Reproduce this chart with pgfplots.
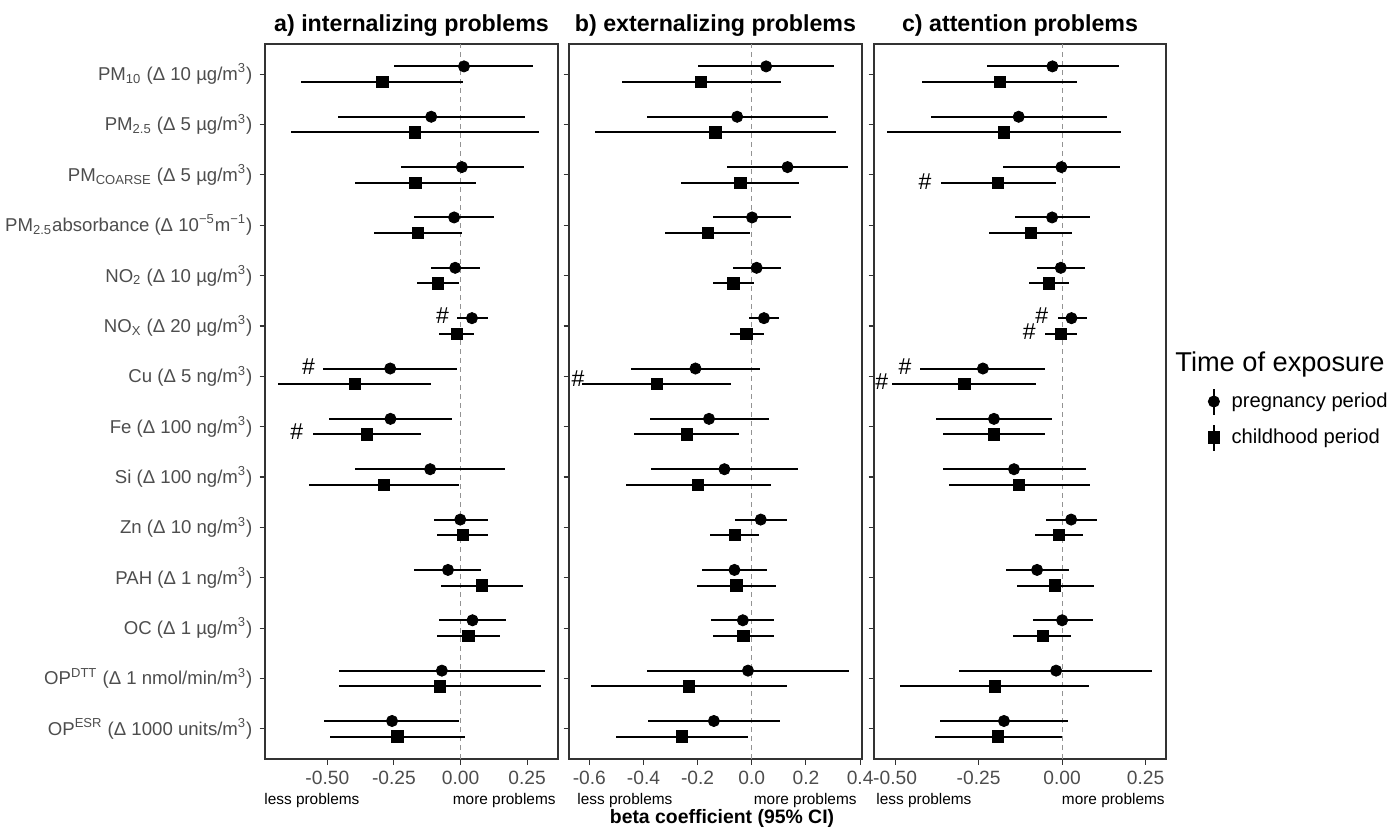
\documentclass[border=0pt]{standalone}
\usepackage{fontspec}
\setmainfont{Liberation Sans}
\usepackage{pgfplots}
\pgfplotsset{compat=1.18}
\usepackage{pgfplotstable}

\definecolor{axtext}{HTML}{4D4D4D}
\definecolor{axline}{HTML}{333333}

% cat  pregnancy(b lo hi)  childhood(b lo hi)
\pgfplotstableread{
cat pb plo phi cb clo chi
14 0.013 -0.248 0.274 -0.293 -0.600 0.011
13 -0.110 -0.459 0.241 -0.171 -0.635 0.293
12 0.005 -0.223 0.237 -0.170 -0.397 0.059
11 -0.024 -0.173 0.126 -0.160 -0.324 0.005
10 -0.020 -0.111 0.074 -0.085 -0.164 -0.005
9 0.043 -0.014 0.103 -0.014 -0.079 0.052
8 -0.264 -0.515 -0.014 -0.397 -0.684 -0.111
7 -0.263 -0.492 -0.032 -0.352 -0.555 -0.147
6 -0.114 -0.395 0.168 -0.287 -0.568 -0.005
5 -0.001 -0.101 0.102 0.008 -0.088 0.103
4 -0.047 -0.173 0.078 0.080 -0.073 0.234
3 0.045 -0.079 0.169 0.030 -0.088 0.148
2 -0.070 -0.457 0.317 -0.077 -0.456 0.302
1 -0.257 -0.511 -0.005 -0.237 -0.491 0.016
}\tabA
\pgfplotstableread{
cat pb plo phi cb clo chi
14 0.053 -0.197 0.305 -0.189 -0.481 0.107
13 -0.054 -0.388 0.282 -0.134 -0.579 0.312
12 0.132 -0.090 0.357 -0.042 -0.261 0.176
11 0.001 -0.142 0.144 -0.163 -0.321 -0.005
10 0.018 -0.070 0.108 -0.068 -0.144 0.007
9 0.045 -0.010 0.102 -0.020 -0.081 0.044
8 -0.208 -0.447 0.032 -0.351 -0.626 -0.078
7 -0.158 -0.376 0.064 -0.240 -0.434 -0.046
6 -0.101 -0.372 0.169 -0.199 -0.466 0.070
5 0.033 -0.063 0.130 -0.062 -0.153 0.028
4 -0.064 -0.185 0.055 -0.057 -0.203 0.090
3 -0.033 -0.152 0.082 -0.031 -0.144 0.081
2 -0.014 -0.386 0.360 -0.232 -0.594 0.130
1 -0.140 -0.385 0.103 -0.259 -0.502 -0.014
}\tabB
\pgfplotstableread{
cat pb plo phi cb clo chi
14 -0.029 -0.226 0.170 -0.187 -0.418 0.044
13 -0.130 -0.393 0.133 -0.175 -0.525 0.175
12 -0.002 -0.176 0.173 -0.192 -0.363 -0.019
11 -0.030 -0.142 0.084 -0.094 -0.219 0.030
10 -0.004 -0.074 0.067 -0.039 -0.098 0.021
9 0.028 -0.013 0.073 -0.004 -0.051 0.046
8 -0.237 -0.425 -0.050 -0.293 -0.508 -0.079
7 -0.204 -0.376 -0.030 -0.204 -0.358 -0.052
6 -0.144 -0.356 0.071 -0.129 -0.340 0.083
5 0.027 -0.048 0.104 -0.010 -0.081 0.062
4 -0.075 -0.168 0.021 -0.021 -0.135 0.096
3 0.000 -0.087 0.093 -0.057 -0.147 0.027
2 -0.018 -0.308 0.269 -0.201 -0.485 0.081
1 -0.174 -0.365 0.018 -0.192 -0.380 0.000
}\tabC

\pgfplotsset{
  forest/.style={
    scale only axis, height=357.5pt,
    ymin=0.4, ymax=14.6, ytick={1,...,14},
    clip=false,
    axis line style={draw=axline, line width=0.55pt},
    tick align=outside, xtick pos=bottom, ytick pos=left,
    major tick length=2.75pt,
    tick style={draw=axline, line width=0.55pt},
    xticklabel style={font=\fontsize{9.6}{11}\selectfont, text=axtext},
    yticklabel style={font=\fontsize{9.3}{11}\selectfont, text=axtext},
    title style={at={(0.5,1)}, anchor=base, yshift=0pt, font=\bfseries\fontsize{11.6}{13}\selectfont},
    anchor=south west,
  },
  zeroline/.style={forget plot, draw=gray!85, line width=0.5pt, dash pattern=on 2.5pt off 2pt},
  preg/.style={only marks, mark=*, mark size=2.8pt, black,
    error bars/.cd, x dir=both, x explicit, error mark=none, error bar style={line width=1pt, black}},
  child/.style={only marks, mark=square*, mark size=2.85pt, black,
    error bars/.cd, x dir=both, x explicit, error mark=none, error bar style={line width=1pt, black}},
}

\newcommand{\hashnode}[2]{\node[font=\fontsize{11.5}{12}\selectfont] at (axis cs:#1,#2) {\#};}
% #1 = left shift, #2 = right shift
\newcommand{\lessmore}[2]{%
  \node[anchor=base west, inner sep=0pt, font=\fontsize{7.7}{9}\selectfont] at (axis description cs:0,0) [xshift=#1, yshift=-22.8pt] {less problems};
  \node[anchor=base east, inner sep=0pt, font=\fontsize{7.7}{9}\selectfont] at (axis description cs:1,0) [xshift=#2, yshift=-22.8pt] {more problems};
}

\begin{document}
\begin{tikzpicture}
\useasboundingbox (0,0) rectangle (695pt,414.5pt);

% ---------- a) internalizing
\begin{axis}[forest, at={(132.5pt,35pt)}, width=146.5pt,
  xmin=-0.734, xmax=0.366,
  xtick={-0.5,-0.25,0,0.25}, xticklabels={-0.50,-0.25,0.00,0.25},
  yticklabels={{OP\textsuperscript{ESR} (Δ 1000 units/m\textsuperscript{3})},
    {OP\textsuperscript{DTT} (Δ 1 nmol/min/m\textsuperscript{3})},
    {OC (Δ 1 µg/m\textsuperscript{3})},
    {PAH (Δ 1 ng/m\textsuperscript{3})},
    {Zn (Δ 10 ng/m\textsuperscript{3})},
    {Si (Δ 100 ng/m\textsuperscript{3})},
    {Fe (Δ 100 ng/m\textsuperscript{3})},
    {Cu (Δ 5 ng/m\textsuperscript{3})},
    {NO\textsubscript{X} (Δ 20 µg/m\textsuperscript{3})},
    {NO\textsubscript{2} (Δ 10 µg/m\textsuperscript{3})},
    {PM\textsubscript{2.5}absorbance (Δ 10\textsuperscript{−5}m\textsuperscript{−1})},
    {PM\textsubscript{COARSE} (Δ 5 µg/m\textsuperscript{3})},
    {PM\textsubscript{2.5} (Δ 5 µg/m\textsuperscript{3})},
    {PM\textsubscript{10} (Δ 10 µg/m\textsuperscript{3})}},
  title={a) internalizing problems}]
\addplot[zeroline] coordinates {(0,0.4) (0,14.6)};
\addplot[preg] table[x=pb, y expr=\thisrow{cat}+0.155, x error plus expr=\thisrow{phi}-\thisrow{pb}, x error minus expr=\thisrow{pb}-\thisrow{plo}] {\tabA};
\addplot[child] table[x=cb, y expr=\thisrow{cat}-0.155, x error plus expr=\thisrow{chi}-\thisrow{cb}, x error minus expr=\thisrow{cb}-\thisrow{clo}] {\tabA};
\hashnode{-0.068}{9.2}
\hashnode{-0.571}{8.19}
\hashnode{-0.615}{6.9}
\lessmore{-0.5pt}{-1pt}
\end{axis}

% ---------- b) externalizing
\begin{axis}[forest, at={(284.5pt,35pt)}, width=146.5pt,
  xmin=-0.675, xmax=0.407,
  xtick={-0.6,-0.4,-0.2,0,0.2,0.4}, xticklabels={-0.6,-0.4,-0.2,0.0,0.2,0.4},
  yticklabels={},
  title={b) externalizing problems}]
\addplot[zeroline] coordinates {(0,0.4) (0,14.6)};
\addplot[preg] table[x=pb, y expr=\thisrow{cat}+0.155, x error plus expr=\thisrow{phi}-\thisrow{pb}, x error minus expr=\thisrow{pb}-\thisrow{plo}] {\tabB};
\addplot[child] table[x=cb, y expr=\thisrow{cat}-0.155, x error plus expr=\thisrow{chi}-\thisrow{cb}, x error minus expr=\thisrow{cb}-\thisrow{clo}] {\tabB};
\hashnode{-0.642}{7.96}
\lessmore{4pt}{-2.5pt}
\end{axis}

% ---------- c) attention
\begin{axis}[forest, at={(437pt,35pt)}, width=146pt,
  xmin=-0.563, xmax=0.311,
  xtick={-0.5,-0.25,0,0.25}, xticklabels={-0.50,-0.25,0.00,0.25},
  yticklabels={},
  title={c) attention problems},
  legend image code/.code={\draw[black,line width=1pt] (0pt,-6.5pt) -- (0pt,6.5pt); \draw[#1] plot coordinates {(0pt,0pt)};},
  legend cell align=left,
  legend style={at={(axis description cs:1.143,0.4748)}, anchor=west, draw=none, fill=none,
    inner sep=0pt, nodes={inner sep=2pt}, column sep=4pt, row sep=4pt,
    font=\fontsize{10.1}{12}\selectfont, cells={anchor=west}}]
\addplot[zeroline] coordinates {(0,0.4) (0,14.6)};
\addplot[preg] table[x=pb, y expr=\thisrow{cat}+0.155, x error plus expr=\thisrow{phi}-\thisrow{pb}, x error minus expr=\thisrow{pb}-\thisrow{plo}] {\tabC};
\addlegendentry{pregnancy period}
\addplot[child] table[x=cb, y expr=\thisrow{cat}-0.155, x error plus expr=\thisrow{chi}-\thisrow{cb}, x error minus expr=\thisrow{cb}-\thisrow{clo}] {\tabC};
\addlegendentry{childhood period}
\hashnode{-0.41}{11.87}
\hashnode{-0.061}{9.2}
\hashnode{-0.098}{8.88}
\hashnode{-0.47}{8.2}
\hashnode{-0.54}{7.89}
\lessmore{1pt}{-0.5pt}
\end{axis}

\node[anchor=base west, inner sep=0pt, font=\fontsize{13.6}{15}\selectfont] at (587.5pt,228.5pt) {Time of exposure};
\node[anchor=base, inner sep=0pt, font=\bfseries\fontsize{9.7}{11}\selectfont] at (361pt,2.7pt) {beta coefficient (95\% CI)};
\end{tikzpicture}
\end{document}
